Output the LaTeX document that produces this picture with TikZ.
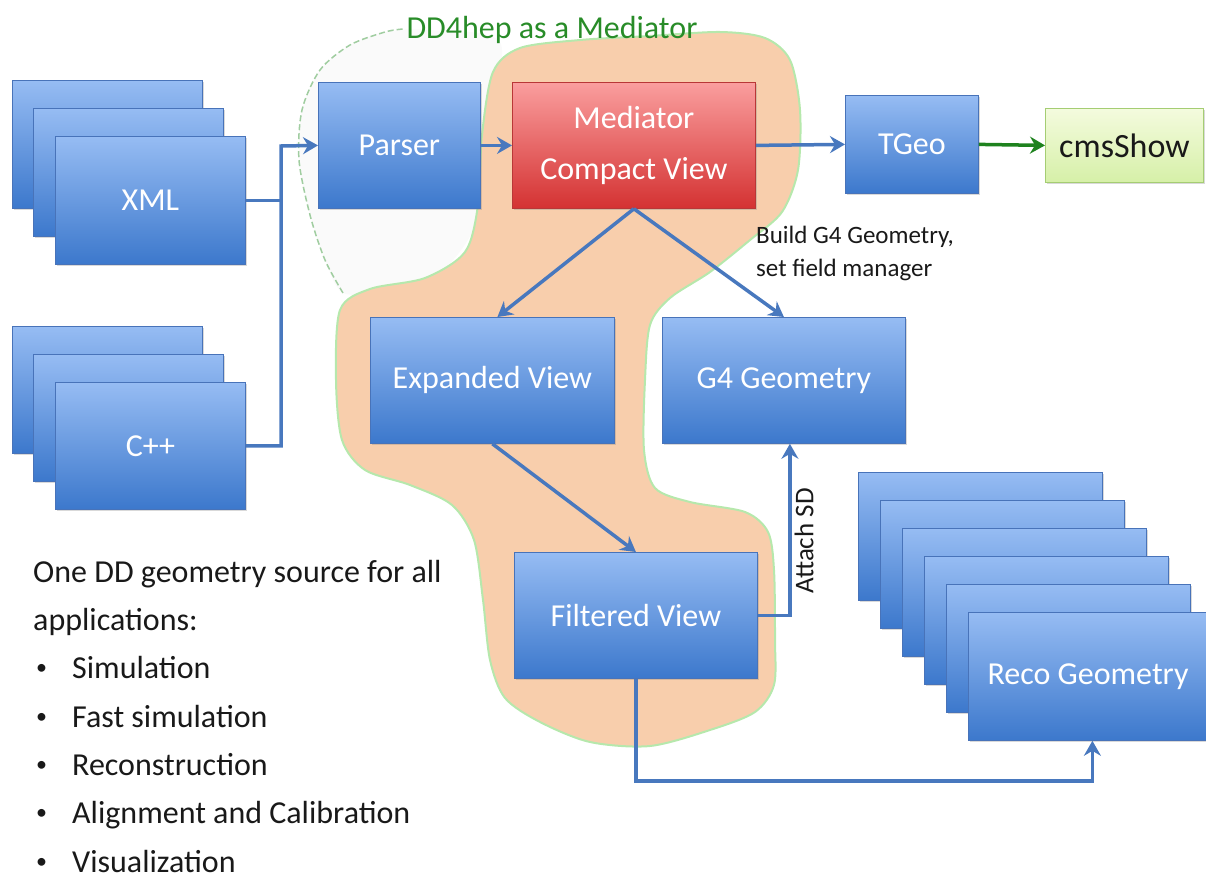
\documentclass[tikz,border=0pt]{standalone}
\usepackage{fontspec}
\setmainfont{Carlito}
\usetikzlibrary{arrows.meta,calc,shadows}
\definecolor{bluetop}{RGB}{150,188,243}
\definecolor{bluebot}{RGB}{60,120,204}
\definecolor{boxborder}{RGB}{72,115,185}
\definecolor{arrowblue}{RGB}{72,120,190}
\definecolor{redtop}{RGB}{250,158,158}
\definecolor{redbot}{RGB}{212,50,50}
\definecolor{redborder}{RGB}{185,55,55}
\definecolor{blob}{RGB}{248,206,172}
\definecolor{blobline}{RGB}{182,232,172}
\definecolor{dashline}{RGB}{160,205,160}
\definecolor{titlegreen}{RGB}{40,140,40}
\definecolor{arrowgreen}{RGB}{30,130,30}
\definecolor{cmstop}{RGB}{244,251,222}
\definecolor{cmsbot}{RGB}{214,240,168}
\definecolor{cmsborder}{RGB}{165,205,115}
\definecolor{txt}{RGB}{25,25,25}
\tikzset{
  sz/.style 2 args={minimum width=#1pt,minimum height=#2pt},
  bbox/.style={rectangle, draw=boxborder, line width=0.8pt, top color=bluetop, bottom color=bluebot,
    text=white, inner sep=0pt, anchor=north west, font=\fontsize{32}{40}\selectfont,
    drop shadow={opacity=0.3, shadow xshift=2pt, shadow yshift=-2pt}},
  rbox/.style={bbox, draw=redborder, top color=redtop, bottom color=redbot},
  gbox/.style={bbox, draw=cmsborder, top color=cmstop, bottom color=cmsbot, text=txt},
  conn/.style={draw=arrowblue, line width=3.5pt},
  arr/.style={conn, -{Stealth[length=15pt,width=17pt,inset=5pt]}},
  garr/.style={arr, draw=arrowgreen},
  plain/.style={text=txt, inner sep=0pt, font=\fontsize{32}{40}\selectfont},
  small/.style={text=txt, inner sep=0pt, font=\fontsize{25}{33}\selectfont}
}
\begin{document}
\begin{tikzpicture}[x=1pt,y=-1pt]
\useasboundingbox (0,0) rectangle (1206,880);
% dotted region around parser
\fill[black!2] plot[smooth cycle, tension=0.5] coordinates {(343,293) (325,260) (310,215) (299,160) (302,110) (320,70) (350,45) (385,32) (430,30) (500,42) (488,120) (482,210) (445,268) (385,290)};
\draw[dashline, line width=1.5pt, dash pattern=on 6pt off 3pt] plot[smooth, tension=0.5] coordinates {(343,293) (325,260) (310,215) (299,160) (302,110) (320,70) (350,45) (385,32) (403,29)};
% orange blob
\filldraw[fill=blob, draw=blobline, line width=2pt] plot[smooth cycle, tension=0.5] coordinates {
(493,72) (520,48) (580,40) (650,36) (720,32) (765,38) (790,60) (800,110) (798,170) (782,212)
(750,240) (710,272) (670,298) (650,325) (645,380) (644,450) (655,488) (690,502) (745,512)
(768,532) (774,570) (775,640) (774,685) (755,712) (710,730) (650,746) (590,742) (540,722)
(505,698) (490,660) (483,600) (474,540) (452,505) (410,485) (365,470) (342,440) (336,380)
(340,310) (370,289) (425,278) (465,252) (478,205) (482,135)};
\node[text=titlegreen, inner sep=0pt, font=\fontsize{32}{40}\selectfont] (title) at (552,30) {DD4hep as a Mediator};
% XML stack
\node[bbox, sz={190}{128}] (xml3) at (12,80) {};
\node[bbox, sz={190}{128}] (xml2) at (33,108) {};
\node[bbox, sz={190}{128}] (xml) at (55,136) {XML};
% C++ stack
\node[bbox, sz={190}{127}] (cpp3) at (12,326) {};
\node[bbox, sz={190}{127}] (cpp2) at (33,354) {};
\node[bbox, sz={190}{127}] (cpp) at (55,382) {C++};
% main boxes
\node[bbox, sz={162}{126}] (parser) at (318,82) {Parser};
\node[rbox, sz={243}{126}, align=center, font=\fontsize{32}{51}\selectfont] (med) at (512,82) {Mediator\\Compact View};
\node[bbox, sz={133}{98}] (tgeo) at (845,95) {TGeo};
\node[gbox, sz={158}{74}, font=\fontsize{34}{40}\selectfont] (cms) at (1045,108) {cmsShow};
\node[bbox, sz={244}{126}] (exp) at (370,317) {Expanded View};
\node[bbox, sz={243}{126}] (g4) at (662,317) {G4 Geometry};
\node[bbox, sz={243}{126}] (filt) at (514,552) {Filtered View};
% Reco stack
\foreach \i in {0,...,4} {
  \node[bbox, sz={244}{128}] (reco\i) at ({858+22*\i},{472+28*\i}) {};
}
\node[bbox, sz={244}{128}] (reco) at (968,612) {};
\node[text=white, inner sep=0pt, font=\fontsize{32}{40}\selectfont] (recolabel) at (1088,677) {Reco Geometry};
% labels
\node[small, anchor=north west, align=left] (build) at (756,226) {Build G4 Geometry,\\set field manager};
\node[small, rotate=90, font=\fontsize{27}{33}\selectfont] (attach) at (804,541) {Attach SD};
% connectors
\coordinate (j) at (281,146);
\draw[conn] (xml.east) -- (xml.east -| j);
\draw[arr] (cpp.east) -| (j) -- (parser.west);
\draw[arr] (parser.east) -- (med.west);
\draw[arr] (med.east) -- (tgeo.west);
\draw[garr] (tgeo.east) -- (cms.west);
\draw[arr] (med.south) -- ($(exp.north)+(5,0)$);
\draw[arr] (med.south) -- (g4.north);
\draw[arr] (exp.south) -- (filt.north);
\draw[arr] (filt.east) -| ($(g4.south)+(6,0)$);
\draw[arr] (filt.south) -- ++(0,102) -| ($(reco.south)+(2,0)$);
% bottom-left text
\node[plain, anchor=base west] (t1) at (33,582) {One DD geometry source for all};
\node[plain, anchor=base west] (t2) at (33,630) {applications:};
\foreach \y/\t [count=\k] in {678/Simulation, 727/Fast simulation, 775/Reconstruction, 823/Alignment and Calibration, 872/Visualization} {
  \node[text=txt, inner sep=0pt, font=\fontsize{22}{26}\selectfont, anchor=base west] (b\k) at (36,{\y-4}) {•};
  \node[plain, anchor=base west] (i\k) at (72,\y) {\t};
}
\end{tikzpicture}
\end{document}
